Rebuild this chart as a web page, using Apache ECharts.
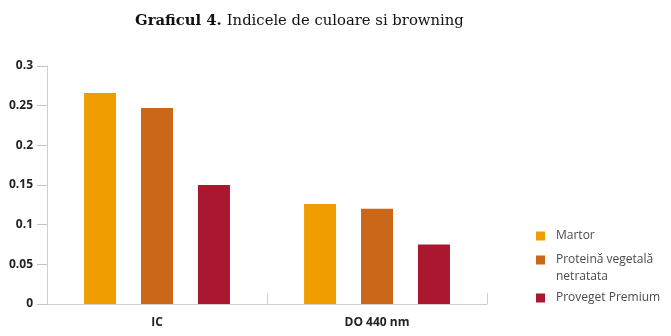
<!DOCTYPE html>
<html>
<head>
<meta charset="utf-8">
<script src="https://cdn.jsdelivr.net/npm/echarts@6/dist/echarts.min.js"></script>
<style>
html,body{margin:0;padding:0;background:#fff;}
#c{width:671px;height:336px;}
</style>
</head>
<body>
<div id="c"></div>
<script>
const categories = ['IC', 'DO 440 nm'];
const seriesNames = ['Martor', 'Proteină vegetală netratata', 'Proveget Premium'];
const martor = [0.266, 0.126];
const proteina = [0.247, 0.120];
const proveget = [0.150, 0.075];
const yTicks = { min: 0, max: 0.3, interval: 0.05 };

const colors = ['#EF9D00', '#CA6718', '#AA1830'];
const font = 'Open Sans';
const axisGray = '#cfcfcf';
const tickGray = '#c4c4c4';

const chart = echarts.init(document.getElementById('c'), null, { renderer: 'canvas' });

function legendFor(name, top) {
  return {
    data: [name],
    orient: 'vertical',
    left: 536,
    top: top,
    padding: 0,
    itemWidth: 9,
    itemHeight: 9,
    icon: 'rect',
    formatter: function (n) { return n === seriesNames[1] ? ' \nProteină vegetală\nnetratata' : n; },
    textStyle: {
      fontFamily: font,
      fontSize: 12,
      color: '#4a4a4a',
      lineHeight: 17,
      padding: [0, 0, 0, 6]
    }
  };
}

chart.setOption({
  animation: false,
  title: {
    text: '{b|Graficul 4.} {n|Indicele de culoare si browning}',
    left: 130,
    top: 7,
    textStyle: {
      rich: {
        b: { fontFamily: 'DejaVu Serif', fontWeight: 'bold', fontSize: 14.8, color: '#111' },
        n: { fontFamily: 'DejaVu Serif', fontWeight: 'normal', fontSize: 14.8, color: '#111' }
      }
    }
  },
  legend: [
    legendFor(seriesNames[0], 227.5),
    legendFor(seriesNames[1], 234.5),
    legendFor(seriesNames[2], 289.5)
  ],
  grid: [
    { left: 47, right: 184, top: 66, bottom: 32, containLabel: false },
    { left: 37, width: 10, top: 66, bottom: 32, containLabel: false }
  ],
  xAxis: [
    {
      type: 'category',
      gridIndex: 0,
      data: categories,
      axisLine: { lineStyle: { color: axisGray, width: 1 } },
      axisTick: { show: true, inside: true, length: 11, lineStyle: { color: axisGray } },
      axisLabel: { fontFamily: font, fontWeight: 'bold', fontSize: 12, color: '#222', margin: 13 }
    },
    { type: 'value', gridIndex: 1, show: false, min: 0, max: 1 }
  ],
  yAxis: [
    {
      type: 'value',
      gridIndex: 0,
      min: yTicks.min,
      max: yTicks.max,
      interval: yTicks.interval,
      splitLine: { show: false },
      axisLine: { show: true, lineStyle: { color: axisGray, width: 1 } },
      axisTick: { show: true, inside: false, length: 10, lineStyle: { color: tickGray, width: 1 } },
      axisLabel: { fontFamily: font, fontWeight: 'bold', fontSize: 12, color: '#222', margin: 14 }
    },
    {
      type: 'value',
      gridIndex: 1,
      min: yTicks.min,
      max: yTicks.max,
      interval: yTicks.interval,
      axisLine: { show: false },
      axisTick: { show: false },
      axisLabel: { show: false },
      splitLine: { show: true, lineStyle: { color: tickGray, width: 1 } }
    }
  ],
  series: [
    { name: seriesNames[0], type: 'bar', data: martor, barWidth: 32, barGap: '78%', itemStyle: { color: colors[0] } },
    { name: seriesNames[1], type: 'bar', data: proteina, barWidth: 32, barGap: '78%', itemStyle: { color: colors[1] } },
    { name: seriesNames[2], type: 'bar', data: proveget, barWidth: 32, barGap: '78%', itemStyle: { color: colors[2] } }
  ]
});
</script>
</body>
</html>
